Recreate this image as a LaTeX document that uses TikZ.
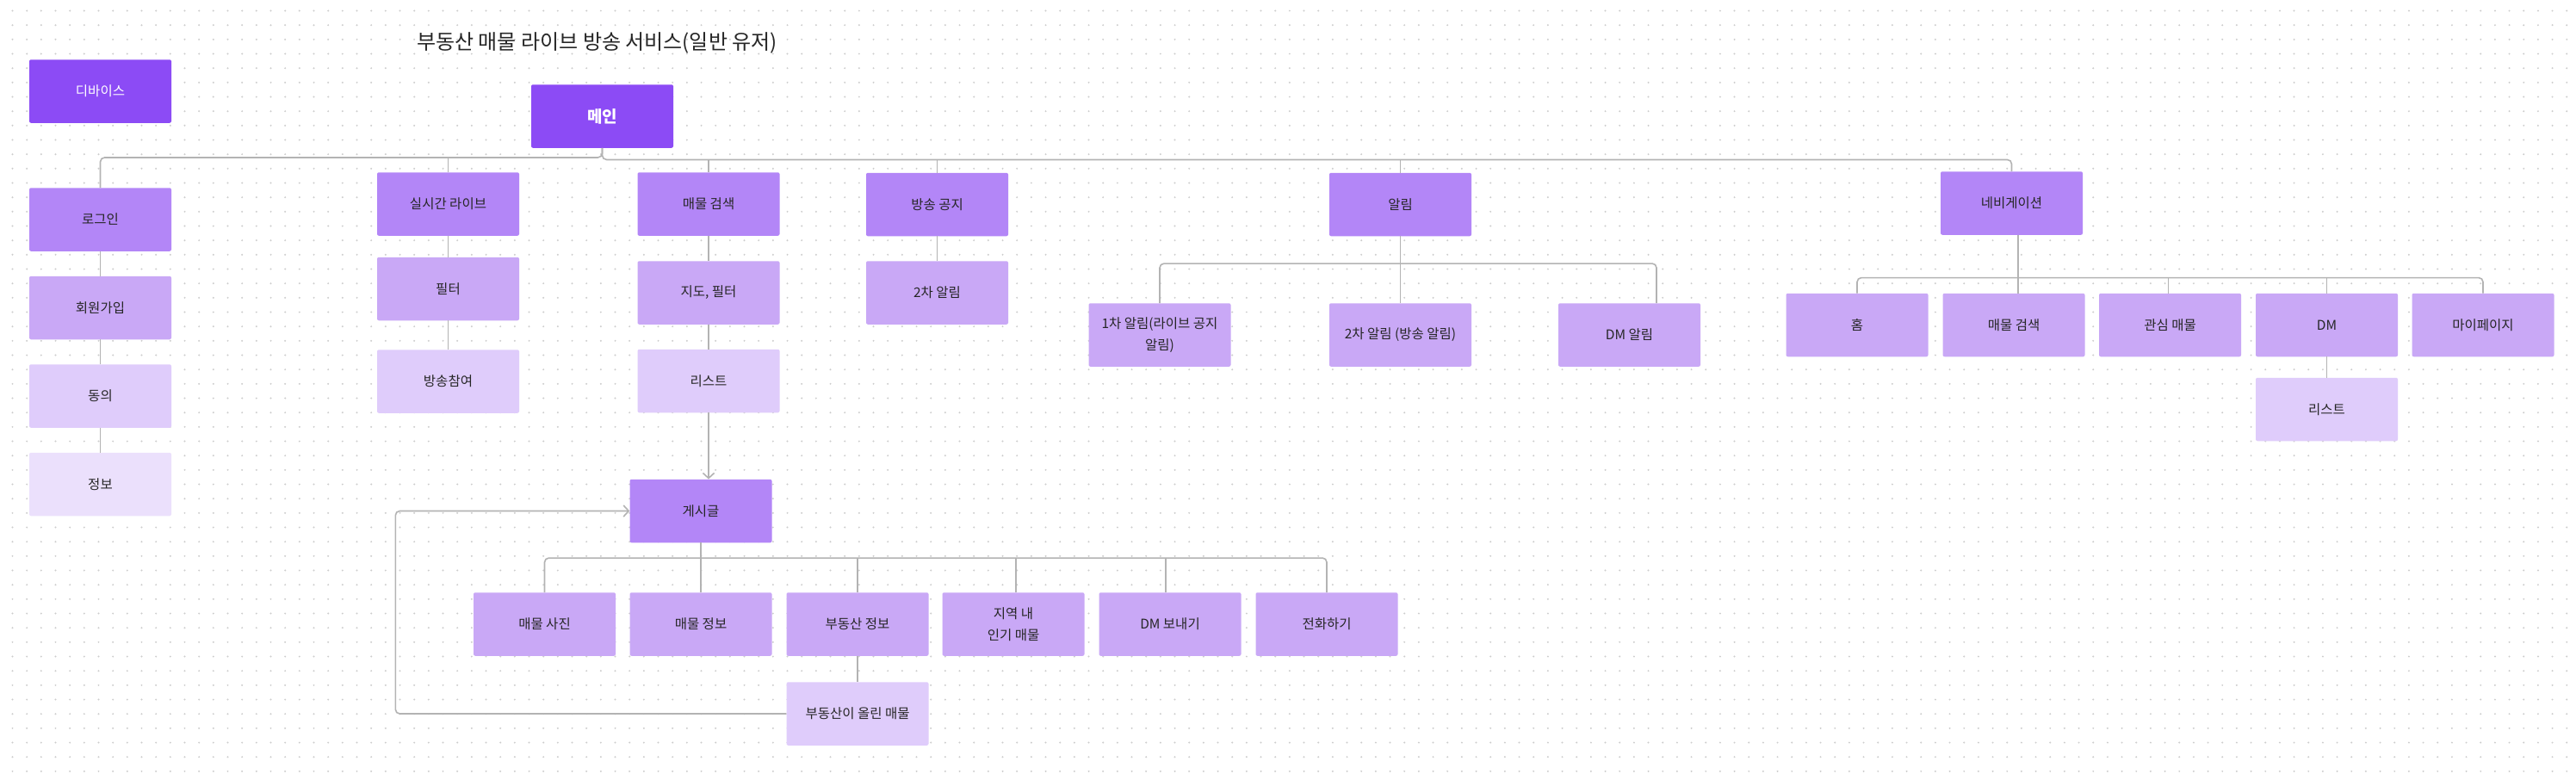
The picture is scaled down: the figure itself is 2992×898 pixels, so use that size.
\documentclass[tikz,border=0pt]{standalone}
\usepackage{fontspec}
\setmainfont{Noto Sans CJK KR}
\usetikzlibrary{arrows.meta}
\definecolor{cDark}{HTML}{8C4BF5}
\definecolor{cLone}{HTML}{B386F7}
\definecolor{cLtwo}{HTML}{C9A8F6}
\definecolor{cLthree}{HTML}{DFCCFB}
\definecolor{cLfour}{HTML}{EBE0FC}
\definecolor{cLine}{HTML}{B3B3B3}
\definecolor{cDot}{HTML}{CDCDCD}
\definecolor{cText}{HTML}{262626}
\tikzset{
  box/.style={rectangle, rounded corners=2pt, minimum width=165pt, minimum height=73.5pt,
    inner sep=2pt, align=center, text=cText, font=\fontsize{15.5}{25}\selectfont},
  darkbox/.style={box, fill=cDark, text=white},
  lone/.style={box, fill=cLone},
  ltwo/.style={box, fill=cLtwo},
  lthree/.style={box, fill=cLthree},
  lfour/.style={box, fill=cLfour},
  conn/.style={draw=cLine, line width=1.6pt},
  bus/.style={conn, rounded corners=5pt},
  arr/.style={-{Straight Barb[length=6pt,width=13pt,line width=1.6pt]}},
  dotrow/.style={draw=cDot, line width=2.2pt, line cap=round, dash pattern=on 0pt off 16.667pt},
  titletext/.style={font=\fontsize{24}{28}\selectfont, text=cText}
}
\begin{document}
\begin{tikzpicture}[x=1pt, y=-1pt]
\useasboundingbox (0,0) rectangle (2992,898);
\fill[white] (0,0) rectangle (2992,898);
\foreach \j in {0,...,53} {
  \draw[dotrow] (14.5,{12.5+16.667*\j}) -- (2992,{12.5+16.667*\j});
}
% title
\node[titletext] (title) at (693.5,50) {부동산 매물 라이브 방송 서비스(일반 유저)};
% nodes
\node[darkbox] (dev) at (116.5,106) {디바이스};
\node[darkbox, font=\bfseries\fontsize{19}{24}\selectfont] (main) at (699.5,135) {메인};

\node[lone] (login) at (116.5,255) {로그인};
\node[ltwo] (signup) at (116.5,357.5) {회원가입};
\node[lthree] (agree) at (116.5,460) {동의};
\node[lfour] (info) at (116.5,562.5) {정보};

\node[lone] (live) at (520.5,237) {실시간 라이브};
\node[ltwo] (filter) at (520.5,335.5) {필터};
\node[lthree] (join) at (520.5,443) {방송참여};

\node[lone] (search) at (823,237) {매물 검색};
\node[ltwo] (mapf) at (823,340) {지도, 필터};
\node[lthree] (list) at (823,442.5) {리스트};

\node[lone] (notice) at (1088.5,237.5) {방송 공지};
\node[ltwo] (alarmtwo) at (1088.5,340) {2차 알림};

\node[lone] (alarm) at (1626.5,237.5) {알림};
\node[ltwo] (aone) at (1347,389) {1차 알림(라이브 공지\\알림)};
\node[ltwo] (atwo) at (1626.5,389) {2차 알림 (방송 알림)};
\node[ltwo] (adm) at (1892.5,389) {DM 알림};

\node[lone] (nav) at (2336.5,236) {네비게이션};
\node[ltwo] (home) at (2157,377.5) {홈};
\node[ltwo] (nsearch) at (2339,377.5) {매물 검색};
\node[ltwo] (fav) at (2520.5,377.5) {관심 매물};
\node[ltwo] (dm) at (2702.5,377.5) {DM};
\node[ltwo] (my) at (2884,377.5) {마이페이지};
\node[lthree] (dmlist) at (2702.5,475.5) {리스트};

\node[lone] (post) at (814,593.5) {게시글};
\node[ltwo] (photo) at (632.5,725) {매물 사진};
\node[ltwo] (pinfo) at (814,725) {매물 정보};
\node[ltwo] (agency) at (996,725) {부동산 정보};
\node[ltwo] (pop) at (1177,725) {지역 내\\인기 매물};
\node[ltwo] (dmsend) at (1359,725) {DM 보내기};
\node[ltwo] (call) at (1541,725) {전화하기};
\node[lthree] (agencylist) at (996,829) {부동산이 올린 매물};

% main buses
\draw[bus] (main.south) -- ++(0,11) -| (login.north);
\draw[conn] (live.north) -- ++(0,-17);
\draw[bus] (main.south) -- ++(0,13.5) -| (nav.north);
\draw[conn] (search.north) -- ++(0,-15);
\draw[conn] (notice.north) -- ++(0,-16);
\draw[conn] (alarm.north) -- ++(0,-16);

% left chain
\draw[conn] (login.south) -- (signup.north);
\draw[conn] (signup.south) -- (agree.north);
\draw[conn] (agree.south) -- (info.north);
% live chain
\draw[conn] (live.south) -- (filter.north);
\draw[conn] (filter.south) -- (join.north);
% search chain
\draw[conn] (search.south) -- (mapf.north);
\draw[conn] (mapf.south) -- (list.north);
\draw[conn, arr] (list.south) -- ([xshift=9pt]post.north);
% notice
\draw[conn] (notice.south) -- (alarmtwo.north);
% alarm
\draw[conn] (alarm.south) -- (atwo.north);
\draw[bus] (aone.north) -- ++(0,-46) -| ([xshift=31.5pt]adm.north);
% nav
\draw[conn] ([xshift=7.5pt]nav.south) -- ([xshift=5pt]nsearch.north);
\draw[bus] (home.north) -- ++(0,-18) -| (my.north);
\draw[conn] ([xshift=-2pt]fav.north) -- ++(0,-18);
\draw[conn] (dm.north) -- ++(0,-18);
\draw[conn] (dm.south) -- (dmlist.north);
% post
\draw[conn] (post.south) -- (pinfo.north);
\draw[bus] (photo.north) -- ++(0,-40) -| (call.north);
\draw[conn] (agency.north) -- ++(0,-40);
\draw[conn] ([xshift=3pt]pop.north) -- ++(0,-40);
\draw[conn] ([xshift=-5pt]dmsend.north) -- ++(0,-40);
\draw[conn] (agency.south) -- (agencylist.north);
\draw[bus, arr] (agencylist.west) -- ++(-454,0) |- (post.west);
\end{tikzpicture}
\end{document}
